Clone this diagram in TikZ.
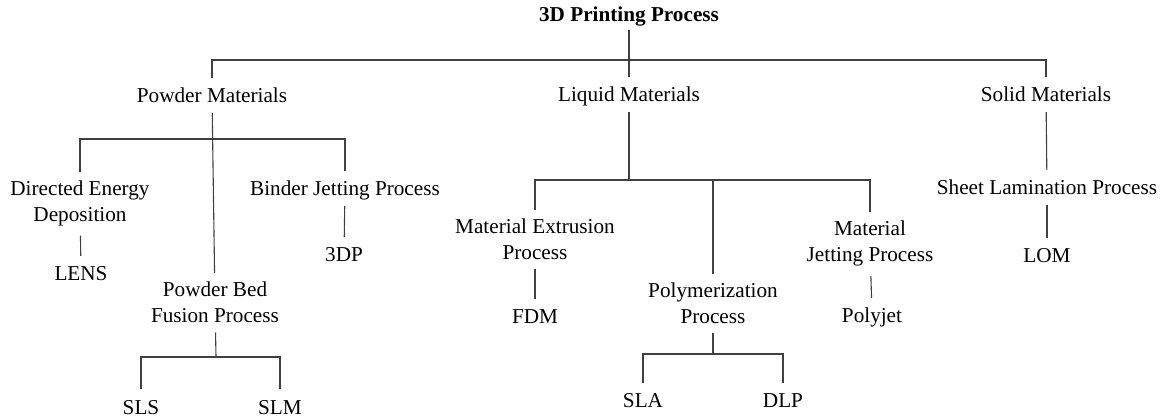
\documentclass[tikz,border=0pt]{standalone}
\usepackage{fontspec}
\setmainfont{Liberation Serif}

\begin{document}
\begin{tikzpicture}[x=1pt,y=-1pt,
    every node/.style={font=\fontsize{21.2}{26}\selectfont, anchor=base,
                       inner xsep=2pt, inner ysep=5pt},
    leaf/.style={text height=20pt, text depth=5pt},
    twoline/.style={align=center, inner ysep=9pt},
    link/.style={draw=black!75, line width=1.1pt}]
  \useasboundingbox (0,0) rectangle (1162,419);

  \node[leaf, inner ysep=3pt] (top)     at (629,22)  {\textbf{3D Printing Process}};
  \node[leaf]    (powder)  at (212,103) {Powder Materials};
  \node[leaf]    (liquid)  at (629,102) {Liquid Materials};
  \node[leaf]    (solid)   at (1046,102) {Solid Materials};

  % two-line nodes sit on the baseline of their last line
  \node[twoline] (ded)     at (80,222)  {Directed Energy\\Deposition};
  \node[leaf]    (bjp)     at (345,196) {Binder Jetting Process};
  \node[leaf]    (lens)    at (81,281)  {LENS};
  \node[leaf]    (tdp)     at (344,262) {3DP};
  \node[twoline] (pbf)     at (215,323) {Powder Bed\\Fusion Process};
  \node[leaf]    (sls)     at (141,414) {SLS};
  \node[leaf]    (slm)     at (280,414) {SLM};

  \node[twoline] (mep)     at (535,260) {Material Extrusion\\Process};
  \node[twoline] (poly)    at (713,324) {Polymerization\\Process};
  \node[twoline] (mjp)     at (870,262) {Material\\Jetting Process};
  \node[leaf]    (fdm)     at (535,324) {FDM};
  \node[leaf]    (polyjet) at (872,323) {Polyjet};
  \node[leaf]    (sla)     at (643,408) {SLA};
  \node[leaf]    (dlp)     at (783,408) {DLP};

  \node[leaf]    (sheet)   at (1047,195) {Sheet Lamination Process};
  \node[leaf]    (lom)     at (1047,263) {LOM};

  % bars of the tree
  \coordinate (b0) at (629,60);
  \coordinate (b1) at (212,139);
  \coordinate (b2) at (216,357);
  \coordinate (b3) at (629,180);
  \coordinate (b4) at (713,180);
  \coordinate (b5) at (713,354);

  \draw[link] (powder) |- (b0) -| (solid);
  \draw[link] (ded) |- (b1) -| (bjp);
  \draw[link] (sls) |- (b2) -| (slm);
  \draw[link] (mep) |- (b3) -| (mjp);
  \draw[link] (sla) |- (b5) -| (dlp);

  \draw[link]
        (top)    edge (liquid)
        (powder) edge (pbf)
        (ded)    edge (lens)
        (bjp)    edge (tdp)
        (pbf)    edge (b2)
        (liquid) edge (b3)
        (b4)     edge (poly)
        (mep)    edge (fdm)
        (mjp)    edge (polyjet)
        (poly)   edge (b5)
        (solid)  edge (sheet)
        (sheet)  edge (lom);
\end{tikzpicture}
\end{document}
